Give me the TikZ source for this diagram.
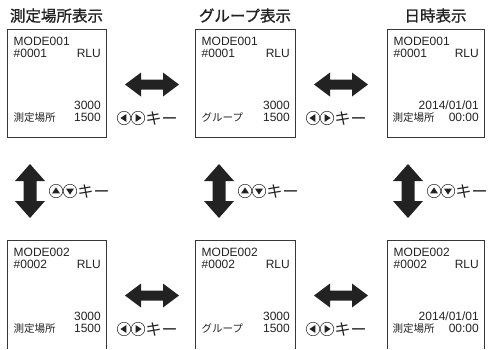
\documentclass[tikz,border=0pt]{standalone}
\usepackage{fontspec}
\setmainfont{Liberation Sans}
\newfontfamily\jp{Noto Sans CJK JP}
\newfontfamily\jpheavy[FakeBold=1.2]{Noto Sans CJK JP}
\definecolor{ink}{HTML}{222222}
\begin{document}
\begin{tikzpicture}[x=1pt,y=-1pt,
  screen/.style={draw=ink!90, line width=0.8pt},
  lat/.style={font=\fontsize{12}{12}\selectfont, text=ink, inner sep=0},
  jpt/.style={font=\jp\fontsize{10.5}{10.5}\selectfont, text=ink, inner sep=0},
  title/.style={font=\jpheavy\fontsize{15.5}{15.5}\selectfont, text=ink, inner sep=0, anchor=base},
  keytext/.style={font=\jp\fontsize{16}{16}\selectfont, text=ink, inner sep=0, anchor=west},
  keycircle/.style={circle, draw=ink, line width=0.5pt, minimum size=13.5pt, inner sep=0},
  bigarrow/.style={fill=ink}]
\useasboundingbox (0,0) rectangle (498,349);

% titles
\node[title] (t1) at (56.5,21.5) {測定場所表示};
\node[title] (t2) at (245,21.5) {グループ表示};
\node[title] (t3) at (435.5,21.5) {日時表示};

% screens
\foreach \r/\dy in {1/0, 2/211} {
  % boxes
  \ifnum\r=1
    \draw[screen] (7,29) rectangle (106,137);
    \draw[screen] (195,29) rectangle (295,137);
    \draw[screen] (387,29) rectangle (484,137);
  \else
    \draw[screen] (7,349) |- (106,240) -- (106,349);
    \draw[screen] (195,349) |- (295,240) -- (295,349);
    \draw[screen] (387,349) |- (484,240) -- (484,349);
  \fi
  \foreach \c/\xa/\xb in {a/7/106, b/195/295, c/387/484} {
    \node[lat, anchor=base west] (m\c\r) at (\xa+6.5,45+\dy) {MODE00\r};
    \node[lat, anchor=base west] (n\c\r) at (\xa+6.5,57+\dy) {\#000\r};
    \node[lat, anchor=base east] (u\c\r) at (\xb-5,57+\dy) {RLU};
  }
  \node[lat, anchor=base east] (va\r) at (101,109.5+\dy) {3000};
  \node[lat, anchor=base east] (wa\r) at (101,121.5+\dy) {1500};
  \node[jpt, anchor=base west] (ja\r) at (13.5,121.5+\dy) {測定場所};
  \node[lat, anchor=base east] (vb\r) at (290,109.5+\dy) {3000};
  \node[lat, anchor=base east] (wb\r) at (290,121.5+\dy) {1500};
  \node[jpt, anchor=base west] (jb\r) at (201.5,121.5+\dy) {グループ};
  \node[lat, anchor=base east] (vc\r) at (479,109.5+\dy) {2014/01/01};
  \node[lat, anchor=base east] (wc\r) at (479,121.5+\dy) {00:00};
  \node[jpt, anchor=base west] (jc\r) at (392.5,121.5+\dy) {測定場所};

  % horizontal double arrows
  \foreach \xl in {125,314} {
    \fill[bigarrow] (\xl,84.5+\dy) -- ++(16,-12) -- ++(0,7) -- ++(22,0) -- ++(0,-7)
      -- ++(16,12) -- ++(-16,12) -- ++(0,-7) -- ++(-22,0) -- ++(0,7) -- cycle;
  }
  % left/right key labels
  \foreach \k/\xs in {p/117, q/306} {
    \node[keycircle] (\k l\r) at (\xs+7,118+\dy) {};
    \node[keycircle] (\k r\r) at (\xs+21,118+\dy) {};
    \fill[ink] ([xshift=-3.6pt]\k l\r.center) -- ++(6,-4) -- ++(0,8) -- cycle;
    \fill[ink] ([xshift=3.6pt]\k r\r.center) -- ++(-6,-4) -- ++(0,8) -- cycle;
    \node[keytext] (\k t\r) at (\xs+28.5,118.5+\dy) {キー};
  }
}

% vertical double arrows and up/down key labels
\foreach \k/\xc in {a/30, b/219, c/408} {
  \fill[bigarrow] (\xc,164) -- ++(15,17) -- ++(-8.5,0) -- ++(0,20) -- ++(8.5,0)
    -- ++(-15,17) -- ++(-15,-17) -- ++(8.5,0) -- ++(0,-20) -- ++(-8.5,0) -- cycle;
  \node[keycircle] (up\k) at (\xc+26,191) {};
  \node[keycircle] (dn\k) at (\xc+40,191) {};
  \fill[ink] ([yshift=3.6pt]up\k.center) -- ++(4,6) -- ++(-8,0) -- cycle;
  \fill[ink] ([yshift=-3.6pt]dn\k.center) -- ++(4,-6) -- ++(-8,0) -- cycle;
  \node[keytext] (vk\k) at (\xc+47.5,191.5) {キー};
}
\end{tikzpicture}
\end{document}
